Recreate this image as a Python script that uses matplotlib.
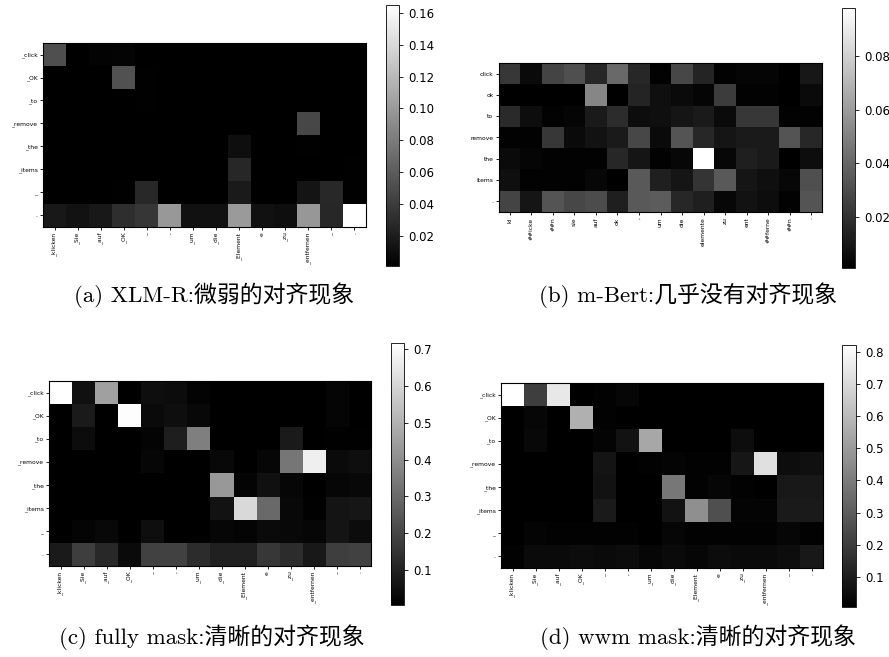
import matplotlib
matplotlib.use("Agg")
import matplotlib.pyplot as plt
import numpy as np

# ---------------- data ----------------
xlmr_x = ["_klicken", "_Sie", "_auf", "_OK", "_", ",", "_um", "_die", "_Element", "e",
          "_zu", "_entfernen", "_", "."]
xlmr_y = ["_click", "_OK", "_to", "_remove", "_the", "_items", "_", "."]

bert_x = ["kl", "##icke", "##n", "sie", "auf", "ok", ",", "um", "die", "elemente",
          "zu", "ent", "##ferne", "##n", "."]
bert_y = ["click", "ok", "to", "remove", "the", "items", "."]

vals_a = [
    [0.052, 0.001, 0.003, 0.004, 0.001, 0.001, 0.001, 0.001, 0.001, 0.001, 0.001, 0.001, 0.001, 0.001],
    [0.001, 0.001, 0.001, 0.054, 0.002, 0.001, 0.001, 0.001, 0.001, 0.001, 0.001, 0.001, 0.001, 0.001],
    [0.001, 0.001, 0.001, 0.001, 0.002, 0.001, 0.001, 0.001, 0.001, 0.001, 0.001, 0.001, 0.001, 0.001],
    [0.001, 0.001, 0.001, 0.001, 0.001, 0.001, 0.001, 0.001, 0.001, 0.001, 0.001, 0.047, 0.001, 0.001],
    [0.001, 0.001, 0.001, 0.001, 0.001, 0.001, 0.001, 0.001, 0.010, 0.001, 0.001, 0.002, 0.001, 0.001],
    [0.001, 0.001, 0.001, 0.001, 0.001, 0.001, 0.001, 0.001, 0.026, 0.001, 0.001, 0.001, 0.001, 0.002],
    [0.001, 0.001, 0.001, 0.002, 0.027, 0.001, 0.001, 0.001, 0.018, 0.001, 0.001, 0.014, 0.027, 0.002],
    [0.017, 0.013, 0.017, 0.031, 0.036, 0.099, 0.012, 0.012, 0.100, 0.012, 0.010, 0.098, 0.026, 0.165],
]

vals_b = [
    [0.022, 0.005, 0.027, 0.031, 0.016, 0.041, 0.016, 0.002, 0.028, 0.015, 0.002, 0.003, 0.003, 0.001, 0.010],
    [0.001, 0.001, 0.001, 0.001, 0.052, 0.001, 0.015, 0.007, 0.005, 0.003, 0.024, 0.002, 0.002, 0.001, 0.005],
    [0.017, 0.006, 0.002, 0.003, 0.011, 0.018, 0.006, 0.007, 0.009, 0.011, 0.005, 0.022, 0.022, 0.002, 0.002],
    [0.002, 0.002, 0.022, 0.005, 0.008, 0.011, 0.028, 0.005, 0.033, 0.016, 0.009, 0.011, 0.011, 0.033, 0.016],
    [0.005, 0.003, 0.002, 0.002, 0.002, 0.016, 0.009, 0.002, 0.004, 0.098, 0.004, 0.013, 0.011, 0.001, 0.006],
    [0.007, 0.002, 0.002, 0.002, 0.004, 0.001, 0.035, 0.013, 0.009, 0.021, 0.035, 0.009, 0.007, 0.004, 0.031],
    [0.027, 0.009, 0.033, 0.028, 0.030, 0.013, 0.035, 0.036, 0.016, 0.013, 0.004, 0.008, 0.006, 0.002, 0.033],
]

vals_c = [
    [0.717, 0.050, 0.450, 0.005, 0.045, 0.040, 0.015, 0.005, 0.005, 0.005, 0.005, 0.005, 0.020, 0.005],
    [0.005, 0.080, 0.005, 0.710, 0.034, 0.045, 0.030, 0.005, 0.005, 0.005, 0.005, 0.005, 0.020, 0.005],
    [0.005, 0.040, 0.005, 0.005, 0.017, 0.090, 0.360, 0.005, 0.005, 0.005, 0.080, 0.005, 0.010, 0.010],
    [0.005, 0.005, 0.005, 0.005, 0.022, 0.005, 0.005, 0.028, 0.005, 0.022, 0.335, 0.670, 0.034, 0.045],
    [0.005, 0.005, 0.005, 0.005, 0.005, 0.005, 0.005, 0.430, 0.017, 0.050, 0.022, 0.005, 0.022, 0.028],
    [0.005, 0.005, 0.005, 0.005, 0.005, 0.005, 0.005, 0.056, 0.610, 0.300, 0.028, 0.010, 0.062, 0.068],
    [0.005, 0.017, 0.028, 0.005, 0.045, 0.005, 0.005, 0.022, 0.017, 0.034, 0.028, 0.022, 0.062, 0.040],
    [0.080, 0.180, 0.120, 0.034, 0.190, 0.190, 0.130, 0.095, 0.095, 0.160, 0.130, 0.073, 0.180, 0.190],
]

vals_d = [
    [0.822, 0.206, 0.748, 0.006, 0.013, 0.026, 0.006, 0.006, 0.006, 0.006, 0.006, 0.006, 0.006, 0.006],
    [0.006, 0.026, 0.006, 0.567, 0.013, 0.006, 0.006, 0.006, 0.006, 0.006, 0.006, 0.006, 0.006, 0.006],
    [0.006, 0.032, 0.006, 0.006, 0.019, 0.064, 0.540, 0.006, 0.006, 0.006, 0.050, 0.006, 0.006, 0.006],
    [0.006, 0.006, 0.006, 0.006, 0.070, 0.006, 0.013, 0.019, 0.013, 0.013, 0.077, 0.720, 0.050, 0.058],
    [0.006, 0.006, 0.006, 0.006, 0.064, 0.006, 0.006, 0.387, 0.013, 0.026, 0.013, 0.006, 0.083, 0.083],
    [0.006, 0.006, 0.006, 0.006, 0.090, 0.006, 0.006, 0.064, 0.464, 0.258, 0.019, 0.019, 0.090, 0.090],
    [0.006, 0.019, 0.013, 0.013, 0.013, 0.013, 0.006, 0.026, 0.013, 0.013, 0.013, 0.013, 0.026, 0.013],
    [0.013, 0.039, 0.039, 0.045, 0.039, 0.045, 0.026, 0.039, 0.026, 0.045, 0.039, 0.039, 0.050, 0.083],
]

captions = ["(a) XLM-R:微弱的对齐现象", "(b) m-Bert:几乎没有对齐现象",
            "(c) fully mask:清晰的对齐现象", "(d) wwm mask:清晰的对齐现象"]

# ---------------- layout (figure fractions) ----------------
W, H = 889, 657
def frac(x0, y0, x1, y1):
    return [x0 / W, 1 - y1 / H, (x1 - x0) / W, (y1 - y0) / H]

panels = [
    (vals_a, xlmr_x, xlmr_y, frac(43, 43, 366, 227), frac(386, 5, 399, 266), (214, 295)),
    (vals_b, bert_x, bert_y, frac(499, 63, 822, 212), frac(842, 8, 855, 268), (688, 295)),
    (vals_c, xlmr_x, xlmr_y, frac(49, 381, 371, 566), frac(391, 343, 404, 605), (212, 637)),
    (vals_d, xlmr_x, xlmr_y, frac(501, 383, 823, 568), frac(842, 345, 856, 607), (698, 637)),
]

fig = plt.figure(figsize=(W / 100, H / 100), dpi=100)

for (vals, xl, yl, axpos, cbpos, cap), text in zip(panels, captions):
    data = np.array(vals)
    ax = fig.add_axes(axpos)
    im = ax.imshow(data, cmap="gray", aspect="auto", interpolation="nearest",
                   vmin=data.min(), vmax=data.max())
    ax.set_xticks(np.arange(len(xl)))
    ax.set_xticklabels(xl, rotation=90, fontsize=4.3)
    ax.set_yticks(np.arange(len(yl)))
    ax.set_yticklabels(yl, fontsize=4.3)
    ax.tick_params(length=2.5, width=0.6, pad=1.5)
    for s in ax.spines.values():
        s.set_linewidth(0.8)
    cax = fig.add_axes(cbpos)
    cb = fig.colorbar(im, cax=cax)
    cb.ax.tick_params(labelsize=8.5, length=3, width=0.6)
    cb.outline.set_linewidth(0.6)
    fig.text(cap[0] / W, 1 - cap[1] / H, text, ha="center", va="center",
             fontsize=16.5, family=["cmr10", "Noto Sans CJK SC"])

fig.savefig("out.png", dpi=100)
